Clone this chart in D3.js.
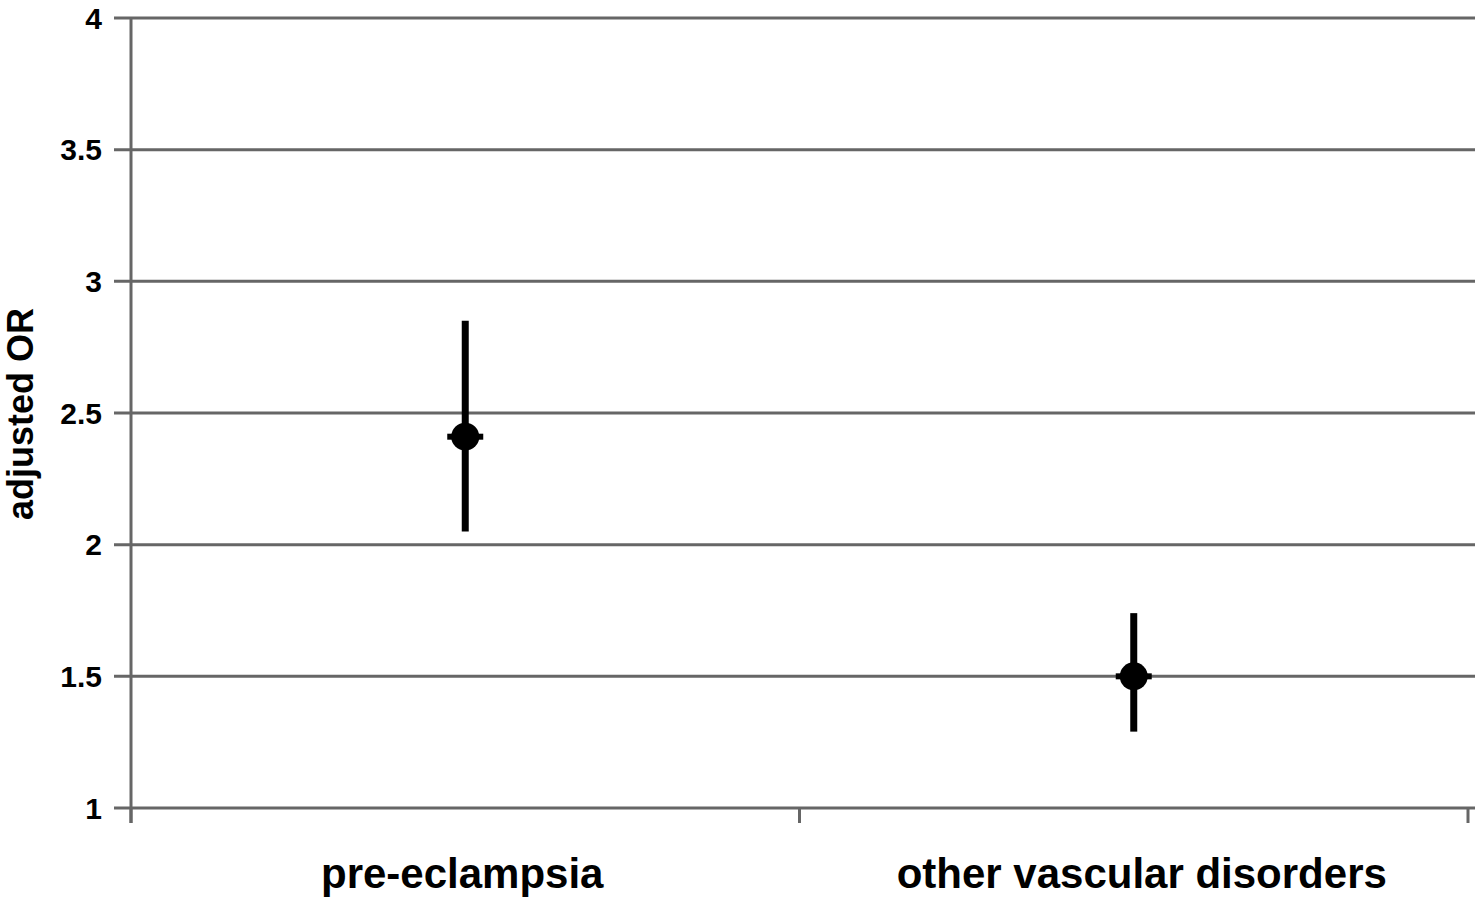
<!DOCTYPE html>
<html>
<head>
<meta charset="utf-8">
<script src="https://cdn.jsdelivr.net/npm/d3@7/dist/d3.min.js"></script>
<style>
  body { margin: 0; background: #fff; }
  text { font-family: "Liberation Sans", Arial, sans-serif; font-weight: bold; fill: #000; }
</style>
</head>
<body>
<svg id="chart" width="1476" height="902"></svg>
<script>
// data
var categories = ["pre-eclampsia", "other vascular disorders"];
var orValues = [2.41, 1.50];
var ciLow = [2.05, 1.29];
var ciHigh = [2.85, 1.74];
var yTicks = [1, 1.5, 2, 2.5, 3, 3.5, 4];
var yTickLabels = ["1", "1.5", "2", "2.5", "3", "3.5", "4"];

var plotLeft = 131, plotRight = 1468, plotTop = 18, plotBottom = 808;
var gridColor = "#666666";

var svg = d3.select("#chart");

var x = d3.scaleBand().domain(categories).range([plotLeft, plotRight]).paddingInner(0).paddingOuter(0);
var y = d3.scaleLinear().domain([1, 4]).range([plotBottom, plotTop]);

// horizontal grid lines
svg.append("g").selectAll("line").data(yTicks).enter().append("line")
  .attr("x1", plotLeft - 17).attr("x2", 1475)
  .attr("y1", function(d){ return y(d); }).attr("y2", function(d){ return y(d); })
  .attr("stroke", gridColor).attr("stroke-width", 3);

// y axis line + labels
svg.append("line").attr("x1", plotLeft).attr("x2", plotLeft).attr("y1", plotTop).attr("y2", plotBottom + 15)
  .attr("stroke", gridColor).attr("stroke-width", 3);

svg.append("g").selectAll("text").data(yTicks).enter().append("text")
  .attr("x", 102).attr("y", function(d){ return y(d); })
  .attr("dy", "0.36em").attr("text-anchor", "end")
  .attr("font-size", 30)
  .text(function(d, i){ return yTickLabels[i]; });

// x axis ticks at band edges
var edges = categories.map(function(c){ return x(c); }).concat([plotRight]);
svg.append("g").selectAll("line").data(edges).enter().append("line")
  .attr("x1", function(d){ return d; }).attr("x2", function(d){ return d; })
  .attr("y1", plotBottom).attr("y2", plotBottom + 15)
  .attr("stroke", gridColor).attr("stroke-width", 3);

// category labels
var catShift = [-3, 8];
svg.append("g").selectAll("text").data(categories).enter().append("text")
  .attr("x", function(d, i){ return x(d) + x.bandwidth() / 2 + catShift[i]; })
  .attr("y", 888).attr("text-anchor", "middle")
  .attr("font-size", 42)
  .text(function(d){ return d; });

// y axis title
svg.append("text")
  .attr("transform", "translate(33,414) rotate(-90)")
  .attr("text-anchor", "middle")
  .attr("font-size", 36)
  .text("adjusted OR");

// error bars and markers
var pts = categories.map(function(c, i){
  return { cat: c, v: orValues[i], lo: ciLow[i], hi: ciHigh[i] };
});
var g = svg.append("g");
var cx = function(d){ return x(d.cat) + x.bandwidth() / 2; };

g.selectAll(".ci").data(pts).enter().append("line")
  .attr("x1", cx).attr("x2", cx)
  .attr("y1", function(d){ return y(d.hi); }).attr("y2", function(d){ return y(d.lo); })
  .attr("stroke", "#000").attr("stroke-width", 7);

g.selectAll(".dash").data(pts).enter().append("rect")
  .attr("x", function(d){ return cx(d) - 18; })
  .attr("y", function(d){ return y(d.v) - 3; })
  .attr("width", 36).attr("height", 6).attr("fill", "#000");

g.selectAll("circle").data(pts).enter().append("circle")
  .attr("cx", cx).attr("cy", function(d){ return y(d.v); })
  .attr("r", 14).attr("fill", "#000");
</script>
</body>
</html>
